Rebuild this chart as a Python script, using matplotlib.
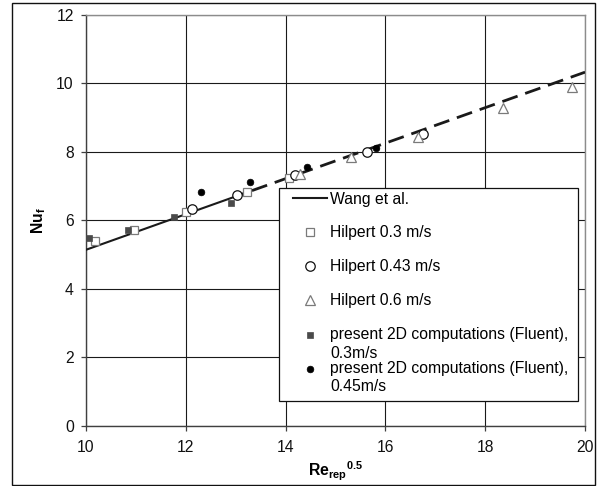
import numpy as np
import matplotlib
matplotlib.use("Agg")
import matplotlib.pyplot as plt
from matplotlib.patches import Rectangle
from matplotlib.legend_handler import HandlerLine2D

# Nusselt number vs sqrt(Re)
wang_x = [10, 13, 20]
wang_y = [5.14, 6.70, 10.33]

hilpert03_x = [10.19, 10.97, 12.00, 13.22, 14.06]
hilpert03_y = [5.39, 5.73, 6.24, 6.82, 7.24]
hilpert043_x = [12.12, 13.02, 14.19, 15.63, 16.75]
hilpert043_y = [6.33, 6.75, 7.33, 8.01, 8.53]
hilpert06_x = [14.29, 15.32, 16.66, 18.35, 19.73]
hilpert06_y = [7.35, 7.85, 8.45, 9.27, 9.89]
fluent03_x = [10.07, 10.84, 11.76, 12.90]
fluent03_y = [5.49, 5.73, 6.09, 6.51]
fluent045_x = [12.31, 13.29, 14.42, 15.81]
fluent045_y = [6.82, 7.13, 7.57, 8.11]

x_ticks = [10, 12, 14, 16, 18, 20]
y_ticks = [0, 2, 4, 6, 8, 10, 12]


class RaisedHandler(HandlerLine2D):
    """Legend handle whose marker sits on the first line of a two-line label."""

    def __init__(self, lift=0.0, **kw):
        super().__init__(**kw)
        self.lift = lift

    def create_artists(self, legend, orig_handle, xdescent, ydescent,
                       width, height, fontsize, trans):
        artists = super().create_artists(legend, orig_handle, xdescent, ydescent,
                                         width, height, fontsize, trans)
        for a in artists:
            a.set_ydata(np.asarray(a.get_ydata(), float) + self.lift)
        return artists


FS = 11.3
plt.rcParams.update({
    "font.family": "Liberation Sans",
    "font.size": FS,
    "mathtext.default": "regular",
})

fig = plt.figure(figsize=(5.98, 4.86), dpi=100)
ax = fig.add_axes([0.1438, 0.1241, 0.8345, 0.8450])

wang_solid, = ax.plot(wang_x[:2], wang_y[:2], color="#1a1a1a", lw=1.5,
                      label="Wang et al.", zorder=3)
ax.plot(wang_x[1:], wang_y[1:], color="#1a1a1a", lw=2.0,
        linestyle=(2.5, (5.8, 2.9)), zorder=3)

h03, = ax.plot(hilpert03_x, hilpert03_y, ls="none", marker="s", ms=6.3,
               mfc="white", mec="#7a7a7a", mew=0.9, label="Hilpert 0.3 m/s", zorder=4)
h043, = ax.plot(hilpert043_x, hilpert043_y, ls="none", marker="o", ms=6.8,
                mfc="white", mec="#111111", mew=0.9, label="Hilpert 0.43 m/s", zorder=4)
h06, = ax.plot(hilpert06_x, hilpert06_y, ls="none", marker="^", ms=7.3,
               mfc="white", mec="#7a7a7a", mew=0.9, label="Hilpert 0.6 m/s", zorder=4)
f03, = ax.plot(fluent03_x, fluent03_y, ls="none", marker="s", ms=4.4,
               mfc="#4a4a4a", mec="#4a4a4a", mew=0.5,
               label="present 2D computations (Fluent),\n0.3m/s", zorder=4)
f045, = ax.plot(fluent045_x, fluent045_y, ls="none", marker="o", ms=4.8,
                mfc="#000000", mec="#000000", mew=0.5,
                label="present 2D computations (Fluent),\n0.45m/s", zorder=4)

ax.set_xlim(10, 20)
ax.set_ylim(0, 12)
ax.set_xticks(x_ticks)
ax.set_yticks(y_ticks)
ax.set_axisbelow(True)
ax.grid(True, color="#1a1a1a", lw=0.8)
for side in ["left", "bottom"]:
    ax.spines[side].set_color("#404040")
    ax.spines[side].set_linewidth(1.0)
for side in ["top", "right"]:
    ax.spines[side].set_color("#8c8c8c")
    ax.spines[side].set_linewidth(1.0)
ax.tick_params(direction="out", length=3.8, width=0.9, color="#404040",
               labelsize=FS, labelcolor="#111111")
ax.tick_params(axis="x", pad=6.5)
ax.tick_params(axis="y", pad=5)

ax.set_xlabel("${Re_{rep}}^{0.5}$", fontweight="bold", fontsize=FS)
ax.set_ylabel("$Nu_f$", fontweight="bold", fontsize=FS)
ax.xaxis.set_label_coords(0.5, -0.082)
ax.yaxis.set_label_coords(-0.076, 0.5)

# legend box: frame plus two frameless legends inside
ax.add_patch(Rectangle((0.387, 0.060), 0.599, 0.519, transform=ax.transAxes,
                       facecolor="white", edgecolor="#111111", lw=0.9,
                       zorder=5, clip_on=False))

leg_a = ax.legend(handles=[wang_solid, h03, h043, h06], loc="upper left",
                  bbox_to_anchor=(0.415, 0.570), borderaxespad=0, borderpad=0,
                  frameon=False, numpoints=1, handlelength=2.15,
                  handletextpad=0.2, labelspacing=1.2, fontsize=FS)
leg_a.set_zorder(6)
ax.add_artist(leg_a)

leg_b = ax.legend(handles=[f03, f045], loc="upper left",
                  bbox_to_anchor=(0.415, 0.240), borderaxespad=0, borderpad=0,
                  frameon=False, numpoints=1, handlelength=2.15,
                  handletextpad=0.2, labelspacing=0.0, fontsize=FS,
                  handler_map={f03: RaisedHandler(lift=6.8),
                               f045: RaisedHandler(lift=6.8)})
for t in leg_b.get_texts():
    t.set_linespacing(1.3)
leg_b.set_zorder(6)

# outer chart-area border
fig.add_artist(Rectangle((12 / 598, 1 - 485 / 486), 583 / 598, 482 / 486,
                         transform=fig.transFigure, fill=False,
                         edgecolor="#111111", lw=1.0))

fig.savefig("out.png", dpi=100)
